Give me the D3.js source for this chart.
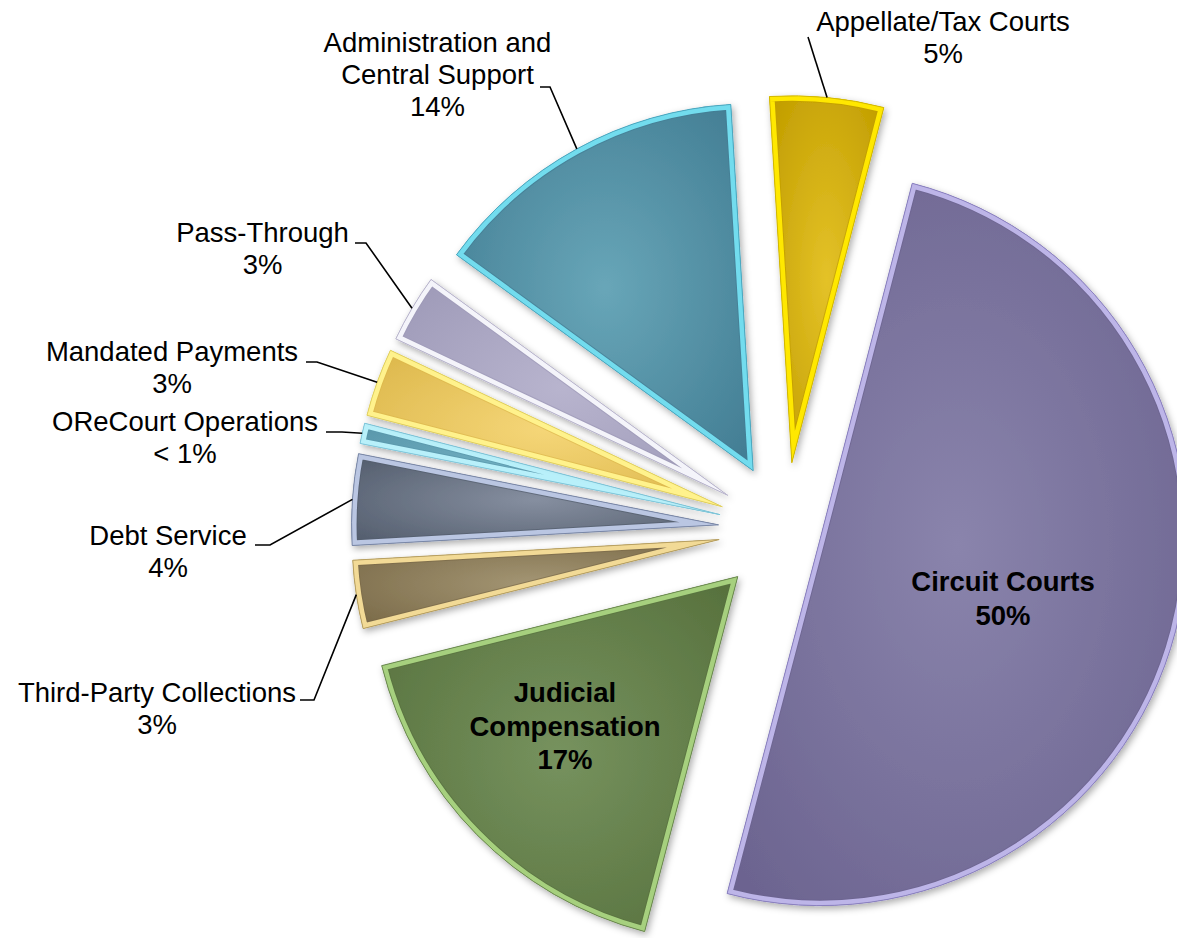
<!DOCTYPE html>
<html>
<head>
<meta charset="utf-8">
<script src="https://cdn.jsdelivr.net/npm/d3@7"></script>
<style>
  body { margin: 0; background: #fff; }
  svg { display: block; }
  text { font-family: Arial, "Liberation Sans", sans-serif; fill: #000; }
</style>
</head>
<body>
<svg id="chart" width="1177" height="938"></svg>
<script>
// Budget share by program area (percent of total)
const categories = [
  "Appellate/Tax Courts", "Circuit Courts", "Judicial Compensation",
  "Third-Party Collections", "Debt Service", "OReCourt Operations",
  "Mandated Payments", "Pass-Through", "Administration and Central Support"
];
const shares = [5, 50, 17, 3, 4, 0.9, 3, 3, 14];
const shareLabels = ["5%", "50%", "17%", "3%", "4%", "< 1%", "3%", "3%", "14%"];
const nameLines = [
  ["Appellate/Tax Courts"], ["Circuit Courts"], ["Judicial", "Compensation"],
  ["Third-Party Collections"], ["Debt Service"], ["OReCourt Operations"],
  ["Mandated Payments"], ["Pass-Through"], ["Administration and", "Central Support"]
];

// Slice styling: [light centre, dark edge, rim band, rim outline]
const palette = [
  ["#E4C228", "#C29E00", "#FFE800", "#D2B800"],
  ["#8A84AC", "#6C6490", "#BDB5E8", "#8A80C0"],
  ["#76925E", "#58723E", "#A6D07E", "#6C8A50"],
  ["#A49674", "#7A6A48", "#F2DA96", "#B8A060"],
  ["#868FA0", "#545E6E", "#BAC6E2", "#7A88A8"],
  ["#74B2C4", "#5A98AC", "#B8F0FA", "#80C8DC"],
  ["#F5D678", "#DDB84C", "#FFF28C", "#E0D060"],
  ["#B8B4CE", "#9E9AB8", "#F4F4FA", "#B8B4CC"],
  ["#68A6B8", "#437E94", "#72DCEE", "#4AA8C0"]
];
// How far each slice is pulled out from the centre (px)
const explode = [67, 36, 67, 67, 67, 67, 67, 67, 67];

// Label placement: anchor (centre x, first baseline), bold flag, leader start points
const labelLayout = [
  { x: 943,   y: 31,  bold: false, leader: [[808, 37]] },
  { x: 1003,  y: 591, bold: true,  leader: null },
  { x: 565,   y: 702, bold: true,  leader: null },
  { x: 157,   y: 702, bold: false, leader: [[300, 700], [314, 700]] },
  { x: 168,   y: 545, bold: false, leader: [[255, 545], [270, 545]] },
  { x: 185,   y: 431, bold: false, leader: [[326, 432], [342, 432]] },
  { x: 172,   y: 361, bold: false, leader: [[306, 362], [317, 362]] },
  { x: 262.5, y: 242, bold: false, leader: [[355, 243], [366, 243]] },
  { x: 437.5, y: 52,  bold: false, leader: [[540, 87], [550, 87]] }
];

const cx = 785.4, cy = 529.5, R = 367, rim = 5;
const start = -3.5 * Math.PI / 180;

const svg = d3.select("#chart");
const defs = svg.append("defs");

const shadow = defs.append("filter").attr("id", "shadow")
  .attr("x", "-20%").attr("y", "-20%").attr("width", "140%").attr("height", "140%");
shadow.append("feDropShadow")
  .attr("dx", 2).attr("dy", 3).attr("stdDeviation", 3.5)
  .attr("flood-color", "#000").attr("flood-opacity", 0.32);

const pie = d3.pie().sort(null).value(d => d)
  .startAngle(start).endAngle(start + 2 * Math.PI);
const arcs = pie(shares);
const arc = d3.arc().innerRadius(0).outerRadius(R);

const root = svg.append("g").attr("transform", `translate(${cx},${cy})`);

arcs.forEach((a, i) => {
  const mid = (a.startAngle + a.endAngle) / 2;
  const ox = explode[i] * Math.sin(mid), oy = -explode[i] * Math.cos(mid);
  a.offset = [ox, oy];
  a.mid = mid;
  const [light, dark, band, line] = palette[i];

  const grad = defs.append("radialGradient").attr("id", "fill" + i)
    .attr("cx", "50%").attr("cy", "50%").attr("r", "65%");
  grad.append("stop").attr("offset", "0%").attr("stop-color", light);
  grad.append("stop").attr("offset", "100%").attr("stop-color", dark);

  const d = arc(a);
  defs.append("clipPath").attr("id", "clip" + i).append("path").attr("d", d);

  const g = root.append("g")
    .attr("transform", `translate(${ox},${oy})`)
    .attr("filter", "url(#shadow)");

  g.append("path").attr("d", d).attr("fill", `url(#fill${i})`);
  // bevelled rim: thin dark seam, then light band, kept inside the slice
  g.append("path").attr("d", d).attr("fill", "none")
    .attr("stroke", dark).attr("stroke-opacity", 0.7)
    .attr("stroke-width", rim * 2 + 2).attr("stroke-linejoin", "miter")
    .attr("clip-path", `url(#clip${i})`);
  g.append("path").attr("d", d).attr("fill", "none")
    .attr("stroke", band).attr("stroke-width", rim * 2)
    .attr("stroke-linejoin", "miter")
    .attr("clip-path", `url(#clip${i})`);
  g.append("path").attr("d", d).attr("fill", "none")
    .attr("stroke", line).attr("stroke-width", 1);
});

// Labels and leader lines
const labels = svg.append("g");
arcs.forEach((a, i) => {
  const L = labelLayout[i];
  if (L.leader) {
    const end = [cx + a.offset[0] + R * Math.sin(a.mid), cy + a.offset[1] - R * Math.cos(a.mid)];
    labels.append("path")
      .attr("d", d3.line()([...L.leader, end]))
      .attr("fill", "none").attr("stroke", "#000").attr("stroke-width", 1.6);
  }
  const lines = [...nameLines[i], shareLabels[i]];
  const gap = L.bold ? 33.5 : 32;
  const t = labels.append("text")
    .attr("text-anchor", "middle")
    .attr("font-size", "27.5px")
    .attr("font-weight", L.bold ? "bold" : "normal");
  lines.forEach((s, k) => {
    t.append("tspan").attr("x", L.x).attr("y", L.y + k * gap).text(s);
  });
});
</script>
</body>
</html>
